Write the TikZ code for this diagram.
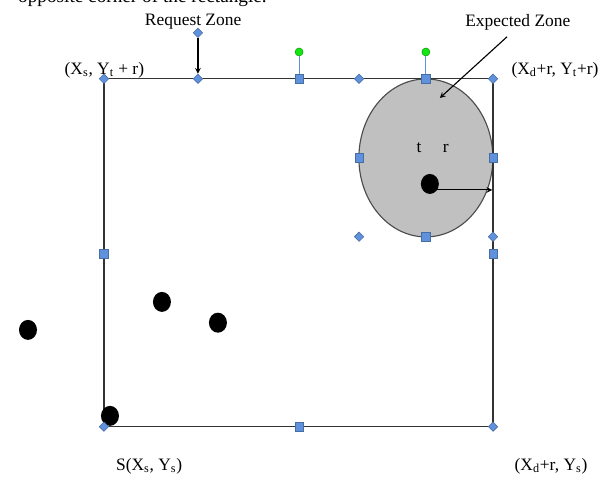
\documentclass[tikz,border=0pt]{standalone}
\usepackage{fontspec}
\setmainfont{Liberation Serif}
\usetikzlibrary{shapes.geometric}
\definecolor{hblue}{RGB}{95,145,220}
\definecolor{hgreen}{RGB}{20,230,20}
\definecolor{zonegray}{RGB}{192,192,192}

\begin{document}
\begin{tikzpicture}[
        font=\fontsize{12.4}{14}\selectfont,
        hdia/.style={diamond, fill=hblue, draw=hblue!75!black, inner sep=0pt, minimum size=0.24cm},
        hsq/.style={rectangle, fill=hblue, draw=hblue!75!black, inner sep=0pt, minimum size=0.21cm},
        hrot/.style={circle, fill=hgreen, draw=hgreen!70!black, inner sep=0pt, minimum size=0.2cm},
        sensor/.style={ellipse, fill=black, inner sep=0pt, minimum width=0.45cm, minimum height=0.5cm}
    ]
            \useasboundingbox (0,0) rectangle (15.28,11.95);
            \clip (0,0) rectangle (15.28,11.95);
            \node[black, anchor=base west, font=\fontsize{13.7}{16}\selectfont] (caption) at (0.33,11.88) {opposite corner of the rectangle.};
            \draw[draw=black!70, fill=zonegray, thick, solid] (10.65,8.00) ellipse (1.675 and 1.975);
            \draw[draw=black!80, thick, solid] (2.60,1.28) rectangle (12.33,9.98);
            \node[sensor] (target) at (10.75,7.35) {};
            \node[sensor] (s1) at (0.70,3.70) {};
            \node[sensor] (s2) at (4.05,4.40) {};
            \node[sensor] (s3) at (5.45,3.88) {};
            \node[sensor] (s4) at (2.75,1.55) {};
            \node[black] (t) at (10.48,8.25) {t};
            \node[black] (r) at (11.15,8.25) {r};
            \coordinate (rstart) at (10.88,7.20);
            \coordinate (rend) at (12.31,7.20);
            \draw[draw=black, -stealth, thick, solid] (rstart) -- (rend);
            \node[black] (request) at (4.83,11.40) {Request Zone};
            \node[black] (expected) at (12.95,11.40) {Expected Zone};
            \coordinate (ezstart) at (12.68,11.03);
            \coordinate (ezend) at (11.00,9.50);
            \draw[draw=black, -stealth, thick, solid] (ezstart) -- (ezend);
            \node[black] (tl) at (2.61,10.20) {(X\textsubscript{s}, Y\textsubscript{t} + r)};
            \node[black] (tr) at (13.88,10.20) {(X\textsubscript{d}+r, Y\textsubscript{t}+r)};
            \node[black] (bl) at (3.73,0.30) {S(X\textsubscript{s}, Y\textsubscript{s})};
            \node[black] (br) at (13.78,0.30) {(X\textsubscript{d}+r, Y\textsubscript{s})};
            \node[hdia] (rq1) at (4.95,11.13) {};
            \node[hdia] (rq2) at (4.95,9.98) {};
            \draw[draw=black, -stealth, thick, solid] (rq1) -- (rq2);
            \node[hrot] (rot1) at (7.48,10.65) {};
            \node[hrot] (rot2) at (10.65,10.65) {};
            \node[hsq] (rtop) at (7.48,9.98) {};
            \node[hsq] (etop) at (10.65,9.98) {};
            \draw[draw=hblue, thick, solid] (rot1) -- (rtop);
            \draw[draw=hblue, thick, solid] (rot2) -- (etop);
            \node[hdia] (c1) at (2.60,9.98) {};
            \node[hdia] (c2) at (12.33,9.98) {};
            \node[hdia] (c3) at (2.60,1.28) {};
            \node[hdia] (c4) at (12.33,1.28) {};
            \node[hdia] (c5) at (8.98,9.98) {};
            \node[hdia] (c6) at (8.98,6.03) {};
            \node[hdia] (c7) at (12.33,6.03) {};
            \node[hsq] (rleft) at (2.60,5.60) {};
            \node[hsq] (rright) at (12.33,5.60) {};
            \node[hsq] (rbot) at (7.48,1.28) {};
            \node[hsq] (eleft) at (8.98,8.00) {};
            \node[hsq] (eright) at (12.33,8.00) {};
            \node[hsq] (ebot) at (10.65,6.03) {};
        \end{tikzpicture}
\end{document}
